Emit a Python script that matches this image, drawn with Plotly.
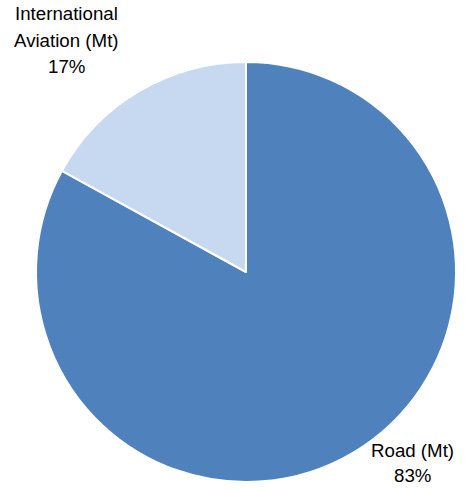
import plotly.graph_objects as go

categories = ["Road (Mt)", "International Aviation (Mt)"]
values = [83, 17]
colors = ["#4F81BD", "#C6D9F1"]
label_lines = [["Road (Mt)", "83%"], ["International", "Aviation (Mt)", "17%"]]

W, H = 474, 492
cx, cy, r = 246, 272, 210

fig = go.Figure(go.Pie(
    labels=categories, values=values, sort=False, direction="clockwise", rotation=0,
    marker=dict(colors=colors, line=dict(color="white", width=2)),
    textinfo="none", hoverinfo="label+percent", showlegend=False,
    domain=dict(x=[(cx - r) / W, (cx + r) / W], y=[1 - (cy + r) / H, 1 - (cy - r) / H]),
))

font = dict(family="Liberation Sans, Arial, sans-serif", size=18.7, color="#000000")
anchors = [(412, 450, 25), (66, 13.5, 26.7)]
ann = []
for lines, (ax, ay, dy) in zip(label_lines, anchors):
    for i, t in enumerate(lines):
        ann.append(dict(text=t, x=ax / W, y=1 - (ay + i * dy) / H, xref="paper", yref="paper",
                        xanchor="center", yanchor="middle", showarrow=False, font=font))

fig.update_layout(width=W, height=H, margin=dict(l=0, r=0, t=0, b=0),
                  paper_bgcolor="white", plot_bgcolor="white", annotations=ann)
fig.write_html("out.html", config={"displayModeBar": False},
               post_script="document.body.style.margin='0';document.body.style.overflow='hidden';")
